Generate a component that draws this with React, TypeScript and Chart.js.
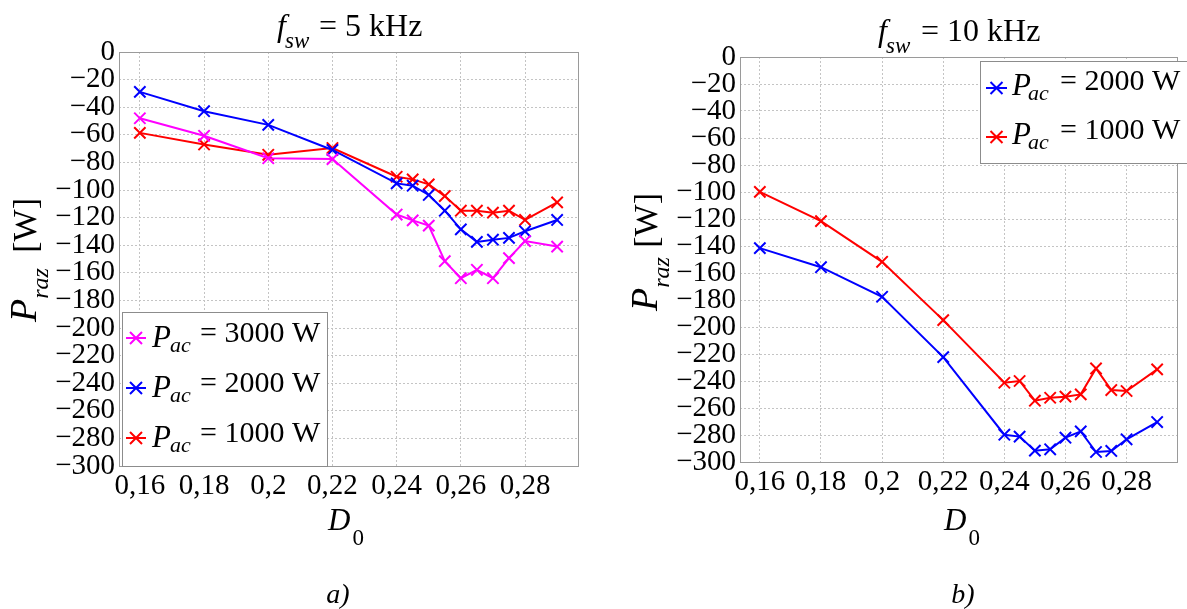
import { useEffect, useRef } from 'react';
import { Chart, registerables } from 'chart.js';

Chart.register(...registerables);

// ---------- data ----------
const D0 = [0.16, 0.18, 0.2, 0.22, 0.24, 0.245, 0.25, 0.255, 0.26, 0.265, 0.27, 0.275, 0.28, 0.29];
const xTickValues = [0.16, 0.18, 0.2, 0.22, 0.24, 0.26, 0.28];
const xTickLabels = ['0,16', '0,18', '0,2', '0,22', '0,24', '0,26', '0,28'];
const yTickValues = [0, -20, -40, -60, -80, -100, -120, -140, -160, -180, -200, -220, -240, -260, -280, -300];

// f_sw = 5 kHz
const p5k_3000 = [-48, -60.7, -77, -77.6, -117.8, -122, -125.8, -151.6, -163.9, -157.8, -163.9, -149.4, -137, -141];
const p5k_2000 = [-28.9, -42.9, -52.8, -71, -95.2, -96.9, -103.6, -115, -128.5, -137.6, -136, -134.7, -129.9, -121.7];
const p5k_1000 = [-58.6, -67, -74.5, -69.6, -90.4, -92.3, -95.9, -104.4, -115, -115, -116.4, -115, -121.7, -109];
// f_sw = 10 kHz
const p10k_2000 = [-141.6, -155.7, -177.6, -222.3, -279.8, -281.2, -291.6, -290.6, -282, -277.3, -292.6, -291.8, -283.2, -270.4];
const p10k_1000 = [-99.9, -121.6, -151.7, -194.9, -241.3, -240, -254.6, -252.4, -251.6, -249.9, -230.7, -246.7, -247.4, -231.4];

const legend5 = ['= 3000 W', '= 2000 W', '= 1000 W'];
const legend10 = ['= 2000 W', '= 1000 W'];
const COLORS5 = ['#ff00ff', '#0000ff', '#ff0000'];
const COLORS10 = ['#0000ff', '#ff0000'];

const X_MIN = 0.1535;
const X_MAX = 0.2965;
const SERIF = '"Liberation Serif", "Times New Roman", serif';

function txt(ctx: CanvasRenderingContext2D, s: string, x: number, y: number, size: number, italic = false, align: CanvasTextAlign = 'left') {
  ctx.font = `${italic ? 'italic ' : ''}${size}px ${SERIF}`;
  ctx.textAlign = align;
  ctx.textBaseline = 'alphabetic';
  ctx.fillStyle = '#000';
  ctx.fillText(s, x, y);
  return ctx.measureText(s).width;
}

function cross(ctx: CanvasRenderingContext2D, x: number, y: number, r: number, color: string) {
  ctx.strokeStyle = color;
  ctx.lineWidth = 2;
  ctx.beginPath();
  ctx.moveTo(x - r, y - r); ctx.lineTo(x + r, y + r);
  ctx.moveTo(x + r, y - r); ctx.lineTo(x - r, y + r);
  ctx.stroke();
}

type Panel = {
  canvasLeft: number;
  canvasWidth: number;
  padTop: number;
  padRight: number;
  yWidth: number;
  xHeight: number;
  series: number[][];
  colors: string[];
  labels: string[];
  legendBox: [number, number, number, number];
  legendRows: number[];
  legendX: { l0: number; l1: number; p: number; sub: number; eq: number };
  legendDy: { p: number; sub: number; eq: number };
  title: { f: number; sub: number; eq: number; y: number; text: string };
  yTitle: { x: number; y: number; half: number };
  xTitle: { x: number; y: number };
  caption: { x: number; text: string };
};

const panels: Panel[] = [
  {
    canvasLeft: 0, canvasWidth: 593, padTop: 52, padRight: 15, yWidth: 119, xHeight: 143,
    series: [p5k_3000, p5k_2000, p5k_1000], colors: COLORS5, labels: legend5,
    legendBox: [122, 312, 327, 466], legendRows: [338, 388, 438],
    legendX: { l0: 126, l1: 146, p: 152, sub: 170, eq: 200 },
    legendDy: { p: 9, sub: 14, eq: 4 },
    title: { f: 277, sub: 285, eq: 319, y: 36, text: '= 5 kHz' },
    yTitle: { x: 36, y: 260, half: 62 },
    xTitle: { x: 328, y: 530 },
    caption: { x: 338, text: 'a)' },
  },
  {
    canvasLeft: 593, canvasWidth: 594, padTop: 57, padRight: 1, yWidth: 147, xHeight: 147,
    series: [p10k_2000, p10k_1000], colors: COLORS10, labels: legend10,
    legendBox: [387, 61, 600, 163], legendRows: [88, 137],
    legendX: { l0: 393, l1: 414, p: 419, sub: 435, eq: 467 },
    legendDy: { p: 7, sub: 12, eq: 2 },
    title: { f: 285, sub: 293, eq: 328, y: 41, text: '= 10 kHz' },
    yTitle: { x: 64, y: 252, half: 59 },
    xTitle: { x: 351, y: 530 },
    caption: { x: 370, text: 'b)' },
  },
];

function yLabel(v: number) {
  return v === 0 ? '0' : '\u2212' + Math.abs(v);
}
function xLabel(v: number) {
  const i = xTickValues.findIndex((t) => Math.abs(t - v) < 1e-9);
  return i >= 0 ? xTickLabels[i] : '';
}

function PanelChart({ p }: { p: Panel }) {
  const ref = useRef<HTMLCanvasElement>(null);
  useEffect(() => {
    const canvas = ref.current!;
    const figPlugin = {
      id: 'figText',
      beforeDatasetsDraw(chart: any) {
        const { ctx, chartArea: a } = chart;
        ctx.save();
        ctx.strokeStyle = '#9a9a9a';
        ctx.lineWidth = 1;
        ctx.setLineDash([]);
        ctx.strokeRect(Math.round(a.left) + 0.5, Math.round(a.top) + 0.5, Math.round(a.right - a.left), Math.round(a.bottom - a.top));
        ctx.restore();
      },
      afterDatasetsDraw(chart: any) {
        const ctx: CanvasRenderingContext2D = chart.ctx;
        ctx.save();
        const [bx0, by0, bx1, by1] = p.legendBox;
        ctx.fillStyle = '#fff';
        ctx.fillRect(bx0, by0, bx1 - bx0, by1 - by0);
        ctx.strokeStyle = '#8c8c8c';
        ctx.lineWidth = 1;
        ctx.strokeRect(bx0 + 0.5, by0 + 0.5, bx1 - bx0, by1 - by0);
        p.labels.forEach((lab, i) => {
          const y0 = p.legendRows[i];
          const c = p.colors[i];
          ctx.strokeStyle = c;
          ctx.lineWidth = 2;
          ctx.beginPath();
          ctx.moveTo(p.legendX.l0, y0);
          ctx.lineTo(p.legendX.l1, y0);
          ctx.stroke();
          cross(ctx, (p.legendX.l0 + p.legendX.l1) / 2, y0, 6, c);
          txt(ctx, 'P', p.legendX.p, y0 + p.legendDy.p, 31, true);
          txt(ctx, 'ac', p.legendX.sub, y0 + p.legendDy.sub, 22, true);
          txt(ctx, lab, p.legendX.eq, y0 + p.legendDy.eq, 30);
        });
        ctx.restore();
      },
      afterDraw(chart: any) {
        const ctx: CanvasRenderingContext2D = chart.ctx;
        ctx.save();
        // title
        txt(ctx, 'f', p.title.f, p.title.y, 32, true);
        txt(ctx, 'sw', p.title.sub, p.title.y + 12, 23, true);
        txt(ctx, p.title.text, p.title.eq, p.title.y, 32);
        // y title (rotated)
        ctx.save();
        ctx.translate(p.yTitle.x, p.yTitle.y);
        ctx.rotate(-Math.PI / 2);
        const wP = txt(ctx, 'P', -p.yTitle.half, 0, 38, true);
        txt(ctx, 'raz', -p.yTitle.half + wP, 12, 24, true);
        txt(ctx, '[W]', p.yTitle.half, 0, 34, false, 'right');
        ctx.restore();
        // x title
        const wD = txt(ctx, 'D', p.xTitle.x, p.xTitle.y, 31, true);
        txt(ctx, '0', p.xTitle.x + wD + 2, p.xTitle.y + 15, 23);
        // caption
        txt(ctx, p.caption.text, p.caption.x, 603, 28, true, 'center');
        ctx.restore();
      },
    };

    const chart = new Chart(canvas, {
      type: 'line',
      data: {
        datasets: p.series.map((vals, i) => ({
          label: p.labels[i],
          data: D0.map((x, k) => ({ x, y: vals[k] })),
          borderColor: p.colors[i],
          backgroundColor: p.colors[i],
          pointBorderColor: p.colors[i],
          borderWidth: 2,
          pointStyle: 'crossRot',
          pointRadius: 8,
          pointBorderWidth: 2,
          pointHoverRadius: 8,
          fill: false,
          tension: 0,
        })),
      },
      options: {
        responsive: false,
        animation: false,
        events: [],
        layout: { padding: { left: 0, right: p.padRight, top: p.padTop, bottom: 0 } },
        plugins: { legend: { display: false }, tooltip: { enabled: false }, title: { display: false } },
        scales: {
          x: {
            type: 'linear',
            min: X_MIN,
            max: X_MAX,
            afterBuildTicks: (s: any) => { s.ticks = xTickValues.map((v) => ({ value: v })); },
            afterFit: (s: any) => { s.height = p.xHeight; },
            ticks: {
              autoSkip: false, maxRotation: 0, minRotation: 0, padding: 3, color: '#000',
              font: { family: SERIF, size: 29 },
              callback: (v: any) => xLabel(Number(v)),
            },
            grid: { color: '#c4c4c4', lineWidth: 1, drawTicks: false },
            border: { display: false, dash: [2, 2] },
          },
          y: {
            type: 'linear',
            min: -300,
            max: 0,
            afterBuildTicks: (s: any) => { s.ticks = yTickValues.map((v) => ({ value: v })); },
            afterFit: (s: any) => { s.width = p.yWidth; },
            ticks: {
              autoSkip: false, padding: 4, color: '#000',
              font: { family: SERIF, size: 29 },
              callback: (v: any) => yLabel(Number(v)),
            },
            grid: { color: '#c4c4c4', lineWidth: 1, drawTicks: false },
            border: { display: false, dash: [2, 2] },
          },
        },
      },
      plugins: [figPlugin],
    } as any);
    return () => chart.destroy();
  }, [p]);
  return (
    <canvas
      ref={ref}
      width={p.canvasWidth}
      height={609}
      style={{ position: 'absolute', left: p.canvasLeft, top: 0, width: p.canvasWidth, height: 609 }}
    />
  );
}

export default function App() {
  return (
    <div style={{ position: 'fixed', left: 0, top: 0, width: 1187, height: 609, background: '#fff', overflow: 'hidden' }}>
      {panels.map((p, i) => (
        <PanelChart key={i} p={p} />
      ))}
    </div>
  );
}
